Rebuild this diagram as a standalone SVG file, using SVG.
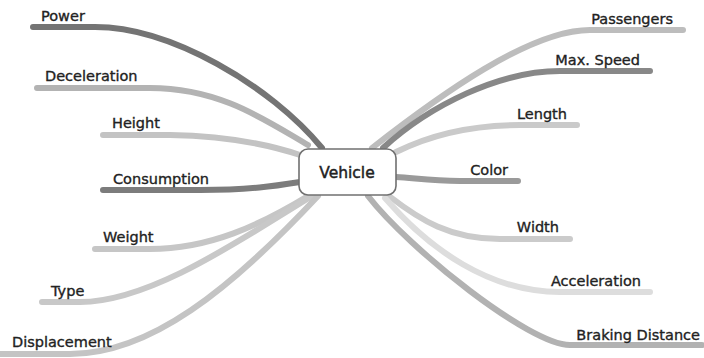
<svg xmlns="http://www.w3.org/2000/svg" width="704" height="358" viewBox="0 0 704 358">
<style>
.c{fill:none;stroke-width:6;stroke-linecap:round;stroke-linejoin:round}
.t{font-family:"DejaVu Sans","Liberation Sans",sans-serif;font-size:14.5px;fill:#222;stroke:#222;stroke-width:0.35}
.r{text-anchor:end}
.node{fill:#fff;stroke:#707070;stroke-width:1.6}
.ct{font-family:"DejaVu Sans","Liberation Sans",sans-serif;font-size:15.5px;fill:#222;stroke:#222;stroke-width:0.45;text-anchor:middle}
</style>
<rect width="704" height="358" fill="#fff"/>
<g id="connectors">
<path class="c" stroke="#747474" d="M33,27 L95,27 C170,27 270,85 322,148"/>
<path class="c" stroke="#b3b3b3" d="M37,88 L150,88 C220,88 265,120 308,145"/>
<path class="c" stroke="#c3c3c3" d="M103,135 L170,135 C230,136 270,145 300,155"/>
<path class="c" stroke="#7c7c7c" d="M103,190 L200,190 C250,190 275,186 300,182"/>
<path class="c" stroke="#c6c6c6" d="M95,249 L150,249 C210,249 260,225 308,196"/>
<path class="c" stroke="#c8c8c8" d="M42,302 L80,302 C150,302 240,240 312,196"/>
<path class="c" stroke="#c4c4c4" d="M0,354 L70,354 C150,354 230,290 318,196"/>
<path class="c" stroke="#bdbdbd" d="M683,30 L590,30 C530,30 440,95 372,148"/>
<path class="c" stroke="#888888" d="M650,71 L560,71 C500,71 430,105 383,148"/>
<path class="c" stroke="#cacaca" d="M577,125 L520,125 C470,125 430,135 396,152"/>
<path class="c" stroke="#9a9a9a" d="M518,181 L460,181 C430,181 415,178 396,177"/>
<path class="c" stroke="#cbcbcb" d="M570,239 L500,239 C450,239 420,220 389,196"/>
<path class="c" stroke="#dddddd" d="M650,292 L560,292 C490,292 430,250 385,198"/>
<path class="c" stroke="#b2b2b2" d="M702,345 L570,345 C530,345 410,250 368,196"/>
</g>
<g id="vehicle"><rect class="node" x="299" y="149" width="97" height="46" rx="9"/><text class="ct" x="347" y="178">Vehicle</text></g>
<g id="power"><text class="t" x="41" y="21">Power</text></g>
<g id="deceleration"><text class="t" x="45" y="81">Deceleration</text></g>
<g id="height"><text class="t" x="112" y="128">Height</text></g>
<g id="consumption"><text class="t" x="113" y="184">Consumption</text></g>
<g id="weight"><text class="t" x="103" y="242">Weight</text></g>
<g id="type"><text class="t" x="51" y="296">Type</text></g>
<g id="displacement"><text class="t" x="12" y="347">Displacement</text></g>
<g id="passengers"><text class="t r" x="673" y="24">Passengers</text></g>
<g id="maxspeed"><text class="t r" x="640" y="65">Max. Speed</text></g>
<g id="length"><text class="t r" x="567" y="119">Length</text></g>
<g id="color"><text class="t r" x="508" y="175">Color</text></g>
<g id="width"><text class="t r" x="559" y="232">Width</text></g>
<g id="acceleration"><text class="t r" x="641" y="286">Acceleration</text></g>
<g id="braking"><text class="t r" x="700" y="340">Braking Distance</text></g>
</svg>
